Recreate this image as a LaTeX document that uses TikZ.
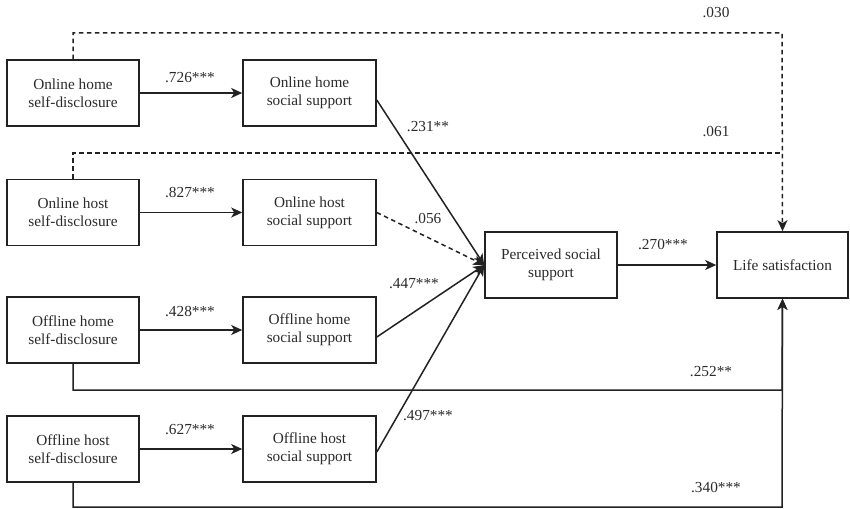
\documentclass[tikz,border=0pt]{standalone}
\usepackage{fontspec}
\setmainfont{Liberation Serif}
\usetikzlibrary{arrows.meta}
\definecolor{linec}{HTML}{222222}
\definecolor{txtc}{HTML}{2A2A2A}
\begin{document}
\begin{tikzpicture}[x=1pt,y=-1pt,
  box/.style={draw=linec, line width=1.6pt, minimum width=132pt, minimum height=66pt, inner sep=0pt, align=center, font=\fontsize{15.3}{18}\selectfont, text=txtc},
  conn/.style={draw=linec, line width=1.5pt},
  arr/.style={conn, -{Stealth[length=11pt,width=10pt,inset=3pt]}},
  dsh/.style={dash pattern=on 4.5pt off 3.5pt},
  lbl/.style={font=\fontsize{15.3}{18}\selectfont, text=txtc, inner sep=0pt}]
\useasboundingbox (0,0) rectangle (850,508);
% boxes
\node[box] (a1) at (73,93) {Online home\\self-disclosure};
\node[box] (a2) at (73,212.5) {Online host\\self-disclosure};
\node[box] (a3) at (73,330) {Offline home\\self-disclosure};
\node[box] (a4) at (73,449) {Offline host\\self-disclosure};
\node[box, minimum width=133pt] (b1) at (309.5,93) {Online home\\social support};
\node[box, minimum width=133pt] (b2) at (309.5,212.5) {Online host\\social support};
\node[box, minimum width=133pt] (b3) at (309.5,330) {Offline home\\social support};
\node[box, minimum width=133pt] (b4) at (309.5,449) {Offline host\\social support};
\node[box] (pss) at (551,265) {Perceived social\\support};
\node[box, minimum width=131pt] (ls) at (782.5,265) {Life satisfaction};
% helper coordinates
\coordinate (k1) at (782,33);
\coordinate (k2) at (782,153);
\coordinate (k3) at (782,390);
\coordinate (k4) at (782,507);
% arrows
\draw[arr] (a1) -- (b1);
\draw[arr] (a2) -- (b2);
\draw[arr] (a3) -- (b3);
\draw[arr] (a4) -- (b4);
\draw[arr] ([yshift=-7pt]b1.east) -- (pss.west);
\draw[arr,dsh] (b2.east) -- (pss.west);
\draw[arr] ([yshift=-7pt]b3.east) -- (pss.west);
\draw[arr] ([yshift=-3pt]b4.east) -- (pss.west);
\draw[arr] (pss) -- (ls);
\draw[conn,dsh] (a2.north) |- (k2);
\draw[arr,dsh] (a1.north) |- (k1) -- (ls.north);
\draw[arr] (a3.south) |- (k3) -- (ls.south);
\draw[arr] (a4.south) |- (k4) -- (ls.south);
% labels
\node[lbl] (l1) at (190,78) {.726***};
\node[lbl] (l2) at (190,193) {.827***};
\node[lbl] (l3) at (190,312) {.428***};
\node[lbl] (l4) at (190,430) {.627***};
\node[lbl] (l5) at (428,127) {.231**};
\node[lbl] (l6) at (428,219) {.056};
\node[lbl] (l7) at (414,284) {.447***};
\node[lbl] (l8) at (428,416) {.497***};
\node[lbl] (l9) at (663,245) {.270***};
\node[lbl] (l10) at (716,13) {.030};
\node[lbl] (l11) at (716,132) {.061};
\node[lbl] (l12) at (711,372) {.252**};
\node[lbl] (l13) at (716,488) {.340***};
\end{tikzpicture}
\end{document}
